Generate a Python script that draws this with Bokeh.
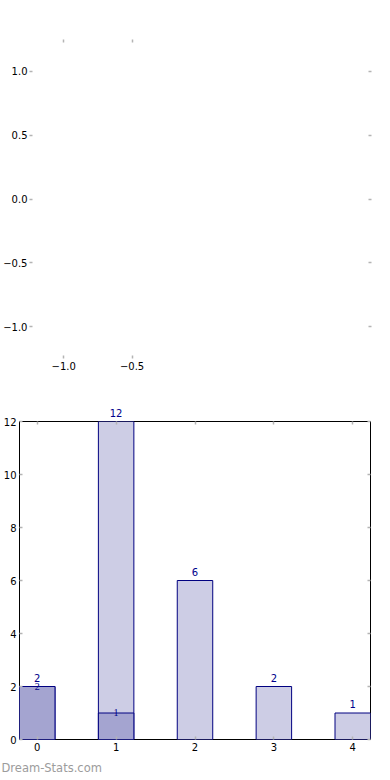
from bokeh.plotting import figure
from bokeh.layouts import column
from bokeh.models import (Range1d, LinearAxis, FixedTicker, Title, Label, LabelSet,
                          ColumnDataSource, CustomJSTickFormatter)
from bokeh.embed import file_html
from bokeh.resources import INLINE

# ---------------- data ----------------
pie_x_ticks = [-1.0, -0.5]
pie_x_labels = ["\u22121.0", "\u22120.5"]
pie_y_ticks = [-1.0, -0.5, 0.0, 0.5, 1.0]
pie_y_labels = ["\u22121.0", "\u22120.5", "0.0", "0.5", "1.0"]
pie_limits = [-1.25, 1.25]

categories = [0, 1, 2, 3, 4]
totals = [2, 12, 6, 2, 1]
highlighted = [2, 1, 0, 0, 0]
bar_x_ticks = [0, 1, 2, 3, 4]
bar_y_ticks = [0, 2, 4, 6, 8, 10, 12]
bar_x_limits = [-0.225, 4.225]
bar_y_limits = [0, 12]
watermark = "Dream-Stats.com"

FONT = "DejaVu Sans"
TICK_COLOR = "#b4b4b4"
LIGHT = "#cdcde5"
DARK = "#a4a4d0"
EDGE = "#000080"
LABEL_COLOR = "#00008b"


def style_axis(ax, ticks, labels=None, show_labels=True):
    ax.ticker = FixedTicker(ticks=ticks)
    ax.axis_line_color = None
    ax.major_tick_in = 3
    ax.major_tick_out = 0
    ax.major_tick_line_color = TICK_COLOR
    ax.major_tick_line_width = 1.5
    ax.minor_tick_line_color = None
    ax.major_label_text_font = FONT
    ax.major_label_text_font_size = "10px"
    ax.major_label_text_color = "black"
    ax.major_label_standoff = 3
    ax.axis_label_standoff = 0
    if show_labels:
        if labels is not None:
            ax.major_label_overrides = {t: l for t, l in zip(ticks, labels)}
    else:
        ax.formatter = CustomJSTickFormatter(code="return ''")
        ax.major_label_standoff = 0


# ---------------- top (empty pie axes) ----------------
p1 = figure(width=390, height=381,
            x_range=Range1d(*pie_limits), y_range=Range1d(*pie_limits),
            output_backend="svg", toolbar_location=None,
            min_border_left=0, min_border_right=19,
            min_border_top=39, min_border_bottom=23)
p1.outline_line_color = None
p1.xgrid.visible = False
p1.ygrid.visible = False
style_axis(p1.xaxis[0], pie_x_ticks, pie_x_labels)
style_axis(p1.yaxis[0], pie_y_ticks, pie_y_labels)
p1.yaxis[0].major_label_standoff = 2
ax_top = LinearAxis()
style_axis(ax_top, pie_x_ticks, show_labels=False)
p1.add_layout(ax_top, "above")
ax_right = LinearAxis()
style_axis(ax_right, pie_y_ticks, show_labels=False)
p1.add_layout(ax_right, "right")

# ---------------- bottom (bar chart) ----------------
p2 = figure(width=390, height=399,
            x_range=Range1d(*bar_x_limits), y_range=Range1d(*bar_y_limits),
            output_backend="svg", toolbar_location=None,
            min_border_left=0, min_border_right=20,
            min_border_top=0, min_border_bottom=40)
p2.outline_line_color = "black"
p2.outline_line_width = 1
p2.xgrid.visible = False
p2.ygrid.visible = False
style_axis(p2.xaxis[0], bar_x_ticks)
style_axis(p2.yaxis[0], bar_y_ticks)
ax_top2 = LinearAxis()
style_axis(ax_top2, bar_x_ticks, show_labels=False)
p2.add_layout(ax_top2, "above")
ax_right2 = LinearAxis()
style_axis(ax_right2, bar_y_ticks, show_labels=False)
p2.add_layout(ax_right2, "right")

hi_x = [c for c, v in zip(categories, highlighted) if v > 0]
hi_v = [v for v in highlighted if v > 0]
src_tot = ColumnDataSource(dict(x=categories, top=totals))
src_hi = ColumnDataSource(dict(x=hi_x, top=hi_v, label=[str(v) for v in hi_v]))

p2.vbar(x="x", top="top", width=0.45, source=src_tot,
        fill_color=LIGHT, line_color=EDGE, line_width=1)
p2.vbar(x="x", top="top", width=0.45, source=src_hi,
        fill_color=DARK, line_color=EDGE, line_width=1)

# value labels of the totals live in the "above" panel so that the one at the
# top of the axes is not clipped by the frame
for c, v in zip(categories, totals):
    p2.add_layout(Label(x=c, y=v, text=str(v), text_align="center",
                        text_baseline="bottom", y_offset=5,
                        text_font=FONT, text_font_size="10px",
                        text_color=LABEL_COLOR), "above")
lbl_hi = LabelSet(x="x", y="top", text="label", source=src_hi,
                  text_align="center", text_baseline="alphabetic", y_offset=-3,
                  text_font=FONT, text_font_size="10px", text_color=LABEL_COLOR)
p2.add_layout(lbl_hi)

wm = Title(text=watermark, align="left", offset=-18, standoff=11,
           text_color="#9c9c9c", text_font=FONT, text_font_size="11.5px",
           text_font_style="normal")
p2.add_layout(wm, "below")

layout = column(column(p1), column(p2), spacing=0)
open("out.html", "w").write(file_html(layout, INLINE))
